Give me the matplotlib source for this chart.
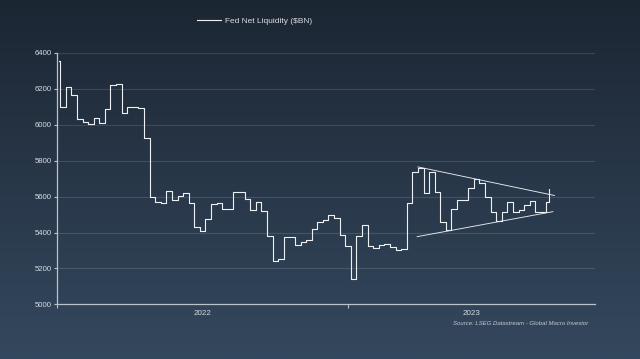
import numpy as np
import pandas as pd
import matplotlib
matplotlib.use("Agg")
import matplotlib.pyplot as plt
import matplotlib.dates as mdates
from matplotlib.colors import LinearSegmentedColormap
from matplotlib import font_manager

# weekly Fed net liquidity ($BN)
first_date = "2022-01-03"
first_value = 6354
week_start = "2022-01-05"
weekly = [6096, 6208, 6165, 6030, 6016, 6004, 6035, 6009, 6085, 6219,
          6224, 6066, 6098, 6100, 6092, 5924, 5600, 5572, 5564, 5629,
          5581, 5602, 5618, 5563, 5429, 5410, 5475, 5557, 5563, 5533,
          5533, 5624, 5624, 5587, 5525, 5568, 5520, 5383, 5242, 5253,
          5375, 5377, 5329, 5347, 5359, 5421, 5460, 5470, 5496, 5483,
          5386, 5325, 5142, 5381, 5444, 5325, 5312, 5333, 5336, 5318,
          5305, 5310, 5563, 5738, 5761, 5622, 5738, 5627, 5460, 5414,
          5529, 5581, 5581, 5646, 5696, 5674, 5595, 5515, 5463, 5513,
          5568, 5513, 5525, 5553, 5575, 5513, 5515, 5572]
last_date = "2023-09-09"
last_value = 5640

# triangle trendlines
upper_dates = ["2023-03-29", "2023-09-16"]
upper_vals = [5765, 5606]
lower_dates = ["2023-03-28", "2023-09-14"]
lower_vals = [5377, 5516]

dates = ([pd.Timestamp(first_date)]
         + list(pd.date_range(week_start, periods=len(weekly), freq="7D"))
         + [pd.Timestamp(last_date)])
values = [first_value] + weekly + [last_value]

names = {f.name for f in font_manager.fontManager.ttflist}
fam = ["Liberation Sans Narrow", "DejaVu Sans"] if "Liberation Sans Narrow" in names else ["Liberation Sans", "DejaVu Sans"]
plt.rcParams["font.family"] = fam

txt = "#d6dce2"
fig = plt.figure(figsize=(6.4, 3.59), dpi=100)

# gradient background
bg = fig.add_axes([0, 0, 1, 1], zorder=-10)
cmap = LinearSegmentedColormap.from_list("bg", ["#1c2633", "#34485e"])
bg.imshow(np.linspace(0, 1, 256).reshape(-1, 1), aspect="auto", cmap=cmap,
          extent=[0, 1, 0, 1])
bg.axis("off")

ax = fig.add_axes([0.089, 0.152, 0.841, 0.701])
ax.set_facecolor("none")
line, = ax.plot(dates, values, drawstyle="steps-post", color="#eef1f4", lw=0.8,
                label="Fed Net Liquidity ($BN)")
ax.plot(pd.to_datetime(upper_dates), upper_vals, color="#e6eaee", lw=0.65)
ax.plot(pd.to_datetime(lower_dates), lower_vals, color="#e6eaee", lw=0.65)

ax.set_ylim(5000, 6400)
ax.set_yticks(np.arange(5000, 6401, 200))
x0, x1 = pd.Timestamp("2022-01-01"), pd.Timestamp("2023-11-06")
ax.set_xlim(x0, x1)
ax.grid(axis="y", color="#ffffff", alpha=0.13, lw=0.8)
ax.set_axisbelow(True)

ax.xaxis.set_major_locator(mdates.YearLocator())
ax.xaxis.set_major_formatter(plt.NullFormatter())
mids = [pd.Timestamp("2022-01-01") + (pd.Timestamp("2023-01-01") - pd.Timestamp("2022-01-01")) / 2,
        pd.Timestamp("2023-01-01") + (x1 - pd.Timestamp("2023-01-01")) / 2]
ax.set_xticks(mdates.date2num(mids), minor=True)
ax.set_xticklabels(["2022", "2023"], minor=True)
ax.tick_params(axis="x", which="major", length=3, color="#b8c3ce", width=0.8)
ax.tick_params(axis="x", which="minor", length=0, pad=4, labelsize=5.8, labelcolor=txt)
ax.tick_params(axis="y", length=2.5, color="#b8c3ce", width=0.8, pad=1.5,
               labelsize=5.6, labelcolor=txt)

for s in ["top", "right"]:
    ax.spines[s].set_visible(False)
for s in ["left", "bottom"]:
    ax.spines[s].set_color("#b8c3ce")
    ax.spines[s].set_linewidth(0.9)

fig.legend(handles=[line], loc="center", bbox_to_anchor=(0.398, 0.942),
           frameon=False, fontsize=6.0, labelcolor=txt, handlelength=2.8,
           handletextpad=0.5)

fig.text(0.919, 0.1, "Source: LSEG Datastream - Global Macro Investor",
         ha="right", va="center", fontsize=4.3, style="italic", color="#c5ccd3")

fig.savefig("out.png", dpi=100)
